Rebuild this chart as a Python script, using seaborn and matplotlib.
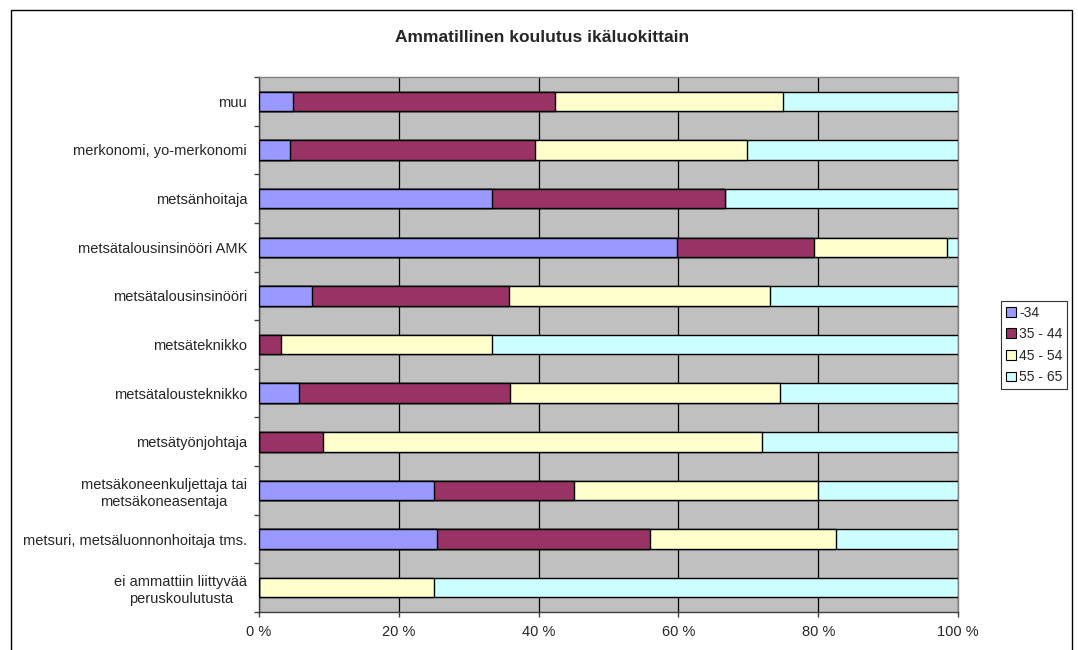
import matplotlib
matplotlib.use("Agg")
import matplotlib.pyplot as plt
from matplotlib.patches import Patch, Rectangle
import seaborn as sns
import pandas as pd
import numpy as np

categories = [
    "muu",
    "merkonomi, yo-merkonomi",
    "metsänhoitaja",
    "metsätalousinsinööri AMK",
    "metsätalousinsinööri",
    "metsäteknikko",
    "metsätalousteknikko",
    "metsätyönjohtaja",
    "metsäkoneenkuljettaja tai\nmetsäkoneasentaja",
    "metsuri, metsäluonnonhoitaja tms.",
    "ei ammattiin liittyvää\nperuskoulutusta",
]
series_names = ["-34", "35 - 44", "45 - 54", "55 - 65"]
age_34 = [4.9, 4.5, 33.3, 59.8, 7.6, 0.0, 5.7, 0.0, 25.0, 25.4, 0.0]
age_35_44 = [37.5, 35.0, 33.4, 19.6, 28.2, 3.1, 30.2, 9.1, 20.0, 30.6, 0.0]
age_45_54 = [32.6, 30.3, 0.0, 19.0, 37.3, 30.2, 38.6, 62.8, 35.0, 26.6, 25.0]
age_55_65 = [25.0, 30.2, 33.3, 1.6, 26.9, 66.7, 25.5, 28.1, 20.0, 17.4, 75.0]
colors = ["#9999FF", "#993366", "#FFFFCC", "#CCFFFF"]
xtick_vals = [0, 20, 40, 60, 80, 100]
xtick_labels = ["0 %", "20 %", "40 %", "60 %", "80 %", "100 %"]
title = "Ammatillinen koulutus ikäluokittain"

sns.set_theme(style="white")
plt.rcParams["font.family"] = ["Liberation Sans", "DejaVu Sans"]

series = [age_34, age_35_44, age_45_54, age_55_65]
df = pd.DataFrame({"cat": categories})
cum = np.zeros(len(categories))
for name, vals in zip(series_names, series):
    cum = cum + np.array(vals)
    df[name] = cum

fig = plt.figure(figsize=(10.78, 6.5), dpi=100)
ax = fig.add_axes([259 / 1078, 1 - 612 / 650, (958 - 259) / 1078, (612 - 77) / 650])
ax.set_facecolor("#C0C0C0")

# draw cumulative bars from widest to narrowest (stacked look)
for name, col in reversed(list(zip(series_names, colors))):
    sns.barplot(data=df, y="cat", x=name, order=categories, orient="h",
                color=col, width=0.4, edgecolor="black", linewidth=1.0,
                saturation=1, ax=ax, zorder=3)

ax.set_xlim(0, 100)
ax.set_ylim(len(categories) - 0.5, -0.5)
ax.set_xticks(xtick_vals)
ax.set_xticklabels(xtick_labels, fontsize=10.5)
ax.xaxis.grid(True, color="black", linewidth=0.9, zorder=1)
ax.yaxis.grid(False)
ax.set_axisbelow(True)
ax.set_xlabel("")
ax.set_ylabel("")

ax.set_yticks(range(len(categories)))
ax.set_yticklabels(categories, fontsize=10.5)
for lbl in ax.get_yticklabels():
    lbl.set_multialignment("center")
    lbl.set_linespacing(1.25)
ax.set_yticks(np.arange(-0.5, len(categories), 1.0), minor=True)
ax.tick_params(axis="y", which="major", length=0, pad=8.5)
ax.tick_params(axis="y", which="minor", length=3.5, width=1, color="#404040", direction="out", left=True)
ax.tick_params(axis="x", which="major", length=3.5, width=1, color="#404040", direction="out", bottom=True, pad=6)

for s in ["top", "right"]:
    ax.spines[s].set_color("#808080")
    ax.spines[s].set_linewidth(1)
ax.spines["left"].set_color("#404040")
ax.spines["bottom"].set_color("#404040")
ax.spines["left"].set_linewidth(1)
ax.spines["bottom"].set_linewidth(1)

fig.text(542 / 1078, 1 - 38 / 650, title, ha="center", va="center", fontsize=12.5, fontweight="bold")

handles = [Patch(facecolor=c, edgecolor="black", linewidth=0.8, label=n) for n, c in zip(series_names, colors)]
leg = fig.legend(handles=handles, loc="center left", bbox_to_anchor=(1001 / 1078, 1 - 345 / 650),
                 fontsize=10, frameon=True, fancybox=False, edgecolor="black",
                 handlelength=0.7, handleheight=0.7, handletextpad=0.25, labelspacing=0.55,
                 borderpad=0.35, borderaxespad=0)
leg.get_frame().set_linewidth(0.8)

fig.patches.append(Rectangle((11 / 1078, -0.05), (1072 - 11) / 1078, 1.05 - 10 / 650,
                             transform=fig.transFigure, fill=False, edgecolor="black", linewidth=1))

fig.savefig("out.png", dpi=100)
